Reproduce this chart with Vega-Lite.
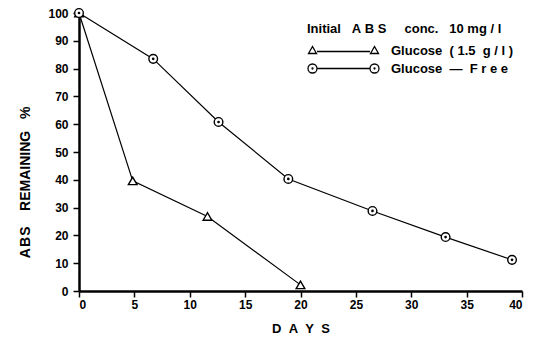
{
  "$schema": "https://vega.github.io/schema/vega-lite/v6.json",
  "width": 443,
  "height": 278,
  "autosize": {"type": "none"},
  "padding": {"left": 79, "top": 13, "right": 18, "bottom": 52},
  "background": "white",
  "config": {
    "view": {"stroke": null},
    "font": "Liberation Sans",
    "axis": {
      "grid": false,
      "domainColor": "black",
      "domainWidth": 2.5,
      "tickColor": "black",
      "tickWidth": 1.5,
      "tickSize": 6,
      "labelColor": "black",
      "labelFont": "Liberation Sans",
      "labelFontWeight": "bold",
      "labelFontSize": 12,
      "titleColor": "black",
      "titleFont": "Liberation Sans",
      "titleFontWeight": "bold",
      "titleFontSize": 13
    }
  },
  "data": {
    "values": [
      {"series": "Glucose (1.5 g/l)", "day": 0, "pct": 100},
      {"series": "Glucose (1.5 g/l)", "day": 4.85, "pct": 39.6},
      {"series": "Glucose (1.5 g/l)", "day": 11.6, "pct": 26.8},
      {"series": "Glucose (1.5 g/l)", "day": 20, "pct": 2.2},
      {"series": "Glucose — Free", "day": 0, "pct": 100},
      {"series": "Glucose — Free", "day": 6.7, "pct": 83.5},
      {"series": "Glucose — Free", "day": 12.6, "pct": 60.8},
      {"series": "Glucose — Free", "day": 18.9, "pct": 40.3},
      {"series": "Glucose — Free", "day": 26.5, "pct": 28.8},
      {"series": "Glucose — Free", "day": 33.1, "pct": 19.4},
      {"series": "Glucose — Free", "day": 39.1, "pct": 11.2}
    ]
  },
  "encoding": {
    "x": {
      "field": "day", "type": "quantitative",
      "scale": {"domain": [0, 40], "nice": false},
      "axis": {"values": [0, 5, 10, 15, 20, 25, 30, 35, 40], "title": "D\u00a0\u00a0A\u00a0\u00a0Y\u00a0\u00a0S", "titlePadding": 12, "labelPadding": 2}
    },
    "y": {
      "field": "pct", "type": "quantitative",
      "scale": {"domain": [0, 100], "nice": false},
      "axis": {"values": [0, 10, 20, 30, 40, 50, 60, 70, 80, 90, 100], "title": "A\u200aB\u200aS\u00a0\u00a0\u00a0\u00a0REMAINING\u00a0\u00a0\u00a0%", "titleFontSize": 14, "titlePadding": 15, "titleY": 169, "labelPadding": 5}
    }
  },
  "layer": [
    {
      "mark": {"type": "line", "strokeWidth": 1.2},
      "encoding": {
        "color": {
          "field": "series", "type": "nominal",
          "scale": {"domain": ["Glucose (1.5 g/l)", "Glucose — Free"], "range": ["black", "black"]},
          "legend": {
            "title": "Initial\u00a0\u00a0\u00a0A\u00a0B\u00a0S\u00a0\u00a0\u00a0\u00a0\u00a0conc.\u00a0\u00a0\u00a010\u00a0mg\u00a0/\u00a0l",
            "orient": "none",
            "legendX": 228,
            "legendY": 10,
            "titleFont": "Liberation Sans",
            "titleFontWeight": "bold",
            "titleFontSize": 13,
            "titleColor": "black",
            "titleLimit": 400,
            "titlePadding": 8,
            "labelFont": "Liberation Sans",
            "labelFontWeight": "bold",
            "labelFontSize": 13,
            "labelColor": "black",
            "labelLimit": 300,
            "labelOffset": 41,
            "symbolOffset": 30,
            "symbolSize": 100,
            "symbolStrokeWidth": 1.3,
            "rowPadding": 3,
            "labelExpr": "datum.value === 'Glucose (1.5 g/l)' ? 'Glucose\u00a0\u00a0(\u00a01.5\u00a0\u00a0g\u00a0/\u00a0l\u00a0)' : 'Glucose\u00a0\u00a0—\u00a0\u00a0F\u00a0r\u00a0e\u00a0e'",
            "encoding": {
              "symbols": {
                "fill": {"value": "white"},
                "strokeWidth": {"value": 1.3},
                "shape": {"value": {"expr": "datum.value === 'Glucose (1.5 g/l)' ? 'M-7,0.6L-5.4,0.6L-6.2,-0.8Z M5.4,0.6L7,0.6L6.2,-0.8Z M-5.3,0.2L5.3,0.2' : 'M-5.3,0A0.9,0.9 0 1,1 -7.1,0A0.9,0.9 0 1,1 -5.3,0Z M-6.1,0A0.1,0.1 0 1,1 -6.3,0A0.1,0.1 0 1,1 -6.1,0Z M7.1,0A0.9,0.9 0 1,1 5.3,0A0.9,0.9 0 1,1 7.1,0Z M6.3,0A0.1,0.1 0 1,1 6.1,0A0.1,0.1 0 1,1 6.3,0Z M-5.3,0L5.3,0'"}}
              }
            }
          }
        }
      }
    },
    {
      "mark": {"type": "point", "filled": true, "fill": "white", "stroke": "black", "strokeWidth": 1.4, "opacity": 1},
      "encoding": {
        "shape": {
          "field": "series", "type": "nominal",
          "scale": {
            "range": ["triangle-up", "M1,0A1,1 0 1,1 -1,0A1,1 0 1,1 1,0Z M0.15,0A0.15,0.15 0 1,1 -0.15,0A0.15,0.15 0 1,1 0.15,0Z"]
          },
          "legend": null
        },
        "size": {"value": 75}
      }
    }
  ]
}
